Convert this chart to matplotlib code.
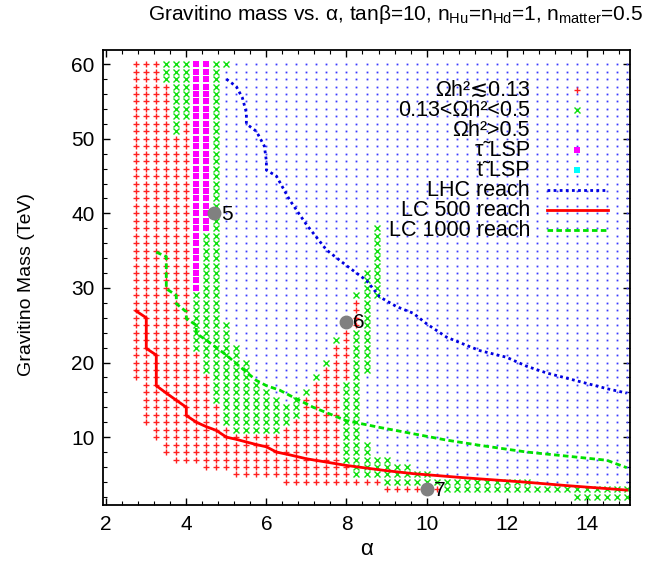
import matplotlib
matplotlib.use('Agg')
import matplotlib.pyplot as plt
from matplotlib.lines import Line2D
from matplotlib.ticker import MultipleLocator

plt.rcParams['font.family'] = ['Liberation Sans', 'DejaVu Sans']
plt.rcParams['mathtext.default'] = 'regular'

# scan grid
alpha_vals = [2.75, 3.0, 3.25, 3.5, 3.75, 4.0, 4.25, 4.5, 4.75, 5.0,
              5.25, 5.5, 5.75, 6.0, 6.25, 6.5, 6.75, 7.0, 7.25, 7.5,
              7.75, 8.0, 8.25, 8.5, 8.75, 9.0, 9.25, 9.5, 9.75, 10.0,
              10.25, 10.5, 10.75, 11.0, 11.25, 11.5, 11.75, 12.0, 12.25, 12.5,
              12.75, 13.0, 13.25, 13.5, 13.75, 14.0, 14.25, 14.5, 14.75, 15.0]

# one entry per alpha column, read bottom -> top: code + highest mass of that run
# _ = no point, r = Oh2<0.13, g = 0.13<Oh2<0.5, b = Oh2>0.5, m = stau LSP
columns = [
    "_17 r60", "_11 r60", "_9 r60", "_7 r57 g60", "_6 r50 g60",
    "_6 r52 g60", "_6 r21 g29 m60", "_5 r18 g37 m60", "_5 r14 g60", "_5 r11 g25 b59 g60",
    "_4 r10 g22 b60", "_4 r10 g20 b60", "_4 r10 g17 b60", "_4 r10 g16 b60", "_4 r10 g15 b60",
    "_3 r11 g14 b60", "_3 r12 g15 b60", "_3 r15 g16 b60", "_3 r17 g18 b60", "_3 r19 g20 b60",
    "_3 r22 g23 b60", "_3 r6 g17 r25 b60", "_3 r4 g24 r28 g29 b60", "_3 r4 g9 b18 g32 b60", "_3 r4 g7 b28 g38 b60",
    "_2 r3 g7 b60", "_2 r3 g6 b60", "_2 r3 g6 b60", "_2 r3 g5 b60", "_2 r3 g5 b60",
    "_2 r3 g4 b60", "_2 g4 b60", "_2 g4 b60", "_2 g4 b60", "_2 g4 b60",
    "_2 g4 b60", "_2 g4 b60", "_2 g4 b60", "_2 g4 b60", "_2 g4 b60",
    "_2 g3 b60", "_2 g3 b60", "_2 g3 b60", "_2 g3 b60", "g3 b60",
    "g3 b60", "g3 b60", "g3 b60", "g3 b60", "g3 b60",
]

# reach curves
lhc_alpha = [5.0, 5.25, 5.4, 5.5, 5.5, 5.75, 5.95, 6.0, 6.0, 6.25, 6.58, 7.0, 7.5, 8.0,
             8.5, 8.83, 9.25, 9.67, 10.0, 10.5, 11.0, 11.33, 12.0, 12.5, 13.0, 13.5, 14.0, 14.5, 15.0]
lhc_mass = [58, 57, 55.5, 53.5, 52, 51, 49, 47, 45.8, 45, 41.8, 38.5, 35.1, 33,
            31, 28.8, 27.5, 26.6, 25.2, 23.4, 22.3, 21.6, 20.7, 19.5, 18.6, 17.9, 17.2, 16.5, 15.9]
lc500_alpha = [2.75, 3.0, 3.0, 3.25, 3.25, 3.5, 4.0, 4.0, 4.25, 4.5, 4.75, 5.0, 5.25, 5.75,
               6.0, 6.25, 6.6, 7.0, 8.0, 9.0, 9.67, 10.83, 11.33, 12.5, 13.5, 15.0]
lc500_mass = [26.9, 26.0, 21.9, 21.0, 16.9, 15.9, 14.0, 12.9, 12.0, 11.4, 10.9, 10.0, 9.7, 9.0,
              8.7, 8.0, 7.6, 7.1, 6.2, 5.5, 5.1, 4.6, 4.4, 3.95, 3.5, 2.9]
lc1000_alpha = [3.25, 3.5, 3.5, 3.75, 3.75, 4.0, 4.0, 4.25, 4.25, 4.5, 5.0, 5.25, 5.75, 6.0,
                6.33, 6.58, 7.17, 8.0, 8.83, 9.67, 10.5, 11.33, 12.5, 13.33, 14.5, 15.0]
lc1000_mass = [34.8, 34.2, 29.9, 29.0, 27.9, 26.8, 25.9, 25.0, 23.9, 23.0, 21.0, 19.85, 17.6, 16.9,
               16.3, 15.6, 14.0, 12.2, 11.3, 10.45, 9.6, 8.9, 8.0, 7.55, 6.9, 5.9]

# benchmark points
bench_alpha = [4.7, 8.0, 10.0]
bench_mass = [40, 25.5, 3]
bench_names = ['5', '6', '7']

legend_labels = [
    'Ωh²≲0.13',
    '0.13<Ωh²<0.5',
    'Ωh²>0.5',
    'τ\u0303 LSP',
    't\u0303 LSP',
    'LHC reach',
    'LC 500 reach',
    'LC 1000 reach',
]

# sort grid points into classes
pts = {'r': ([], []), 'g': ([], []), 'b': ([], []), 'm': ([], [])}
for a, spec in zip(alpha_vals, columns):
    lo = 2
    for tok in spec.split():
        code, top = tok[0], int(tok[1:])
        if code != '_':
            for m in range(lo, top + 1):
                pts[code][0].append(a)
                pts[code][1].append(m)
        lo = top + 1

W, H = 651, 565
fig = plt.figure(figsize=(W / 100, H / 100), dpi=100)
ax = fig.add_axes([103 / W, 60 / H, 527 / W, 455 / H])

# marker / line styles, shared by the plot and the key
st_r = dict(ls='none', marker='+', ms=5, mew=1.0, color='#ff2020')
st_g = dict(ls='none', marker='x', ms=4.2, mew=1.0, color='#10e010')
st_b = dict(ls='none', marker='s', ms=1.3, mew=0, color='#3a3aff')
st_m = dict(ls='none', marker='s', ms=4.4, mew=0, color='#ff00ff')
st_c = dict(ls='none', marker='s', ms=4.4, mew=0, color='#00ffff')
st_lhc = dict(color='#0000e0', lw=2, ls=(0, (1, 1.2)))
st_500 = dict(color='#ff0000', lw=2)
st_1000 = dict(color='#00e000', lw=2, ls=(0, (2, 1.2)))

ax.plot(pts['b'][0], pts['b'][1], **st_b)
ax.plot(pts['r'][0], pts['r'][1], **st_r)
ax.plot(pts['g'][0], pts['g'][1], **st_g)
ax.plot(pts['m'][0], pts['m'][1], **st_m)

ax.plot(lhc_alpha, lhc_mass, **st_lhc)
ax.plot(lc500_alpha, lc500_mass, **st_500)
ax.plot(lc1000_alpha, lc1000_mass, **st_1000)

ax.plot(bench_alpha, bench_mass, ls='none', marker='o', ms=9, color='#808080', zorder=5)
for a, m, name in zip(bench_alpha, bench_mass, bench_names):
    ax.annotate(name, (a, m), xytext=(5, -0.5), textcoords='offset points',
                va='center', ha='left', fontsize=15, zorder=6)

ax.set_xlim(1.92, 15.08)
ax.set_ylim(0.9, 61.9)
ax.xaxis.set_major_locator(MultipleLocator(2))
ax.xaxis.set_minor_locator(MultipleLocator(0.4))
ax.yaxis.set_major_locator(MultipleLocator(10))
ax.yaxis.set_minor_locator(MultipleLocator(2))
ax.tick_params(which='both', direction='in', top=True, right=True, labelsize=15)
ax.tick_params(which='major', length=5, width=1)
ax.tick_params(which='minor', length=3, width=0.8)
ax.tick_params(axis='x', pad=7)
ax.tick_params(axis='y', pad=6)
for s in ax.spines.values():
    s.set_linewidth(1.3)

ax.set_xlabel('α', fontsize=16, labelpad=4)
fig.text(27 / W, 1 - 284 / H, 'Gravitino Mass (TeV)', rotation=90,
         ha='center', va='center', fontsize=14)
fig.text(395 / W, 1 - 15 / H,
         'Gravitino mass vs. α, tanβ=10, n$_{Hu}$=n$_{Hd}$=1, n$_{matter}$=0.5',
         ha='center', va='center', fontsize=15)

# key, placed like the original: text right-aligned, sample to the right
key_styles = [st_r, st_g, st_b, st_m, st_c, st_lhc, st_500, st_1000]
for i, (lab, sty) in enumerate(zip(legend_labels, key_styles)):
    yk = 1 - (90 + 20 * i) / H
    fig.text(530 / W, yk, lab, ha='right', va='center', fontsize=15.5)
    if sty.get('ls') == 'none':
        fig.add_artist(Line2D([577 / W], [yk], transform=fig.transFigure, **sty))
    else:
        fig.add_artist(Line2D([547 / W, 608 / W], [yk, yk], transform=fig.transFigure, **sty))

fig.savefig('out.png', dpi=100)
